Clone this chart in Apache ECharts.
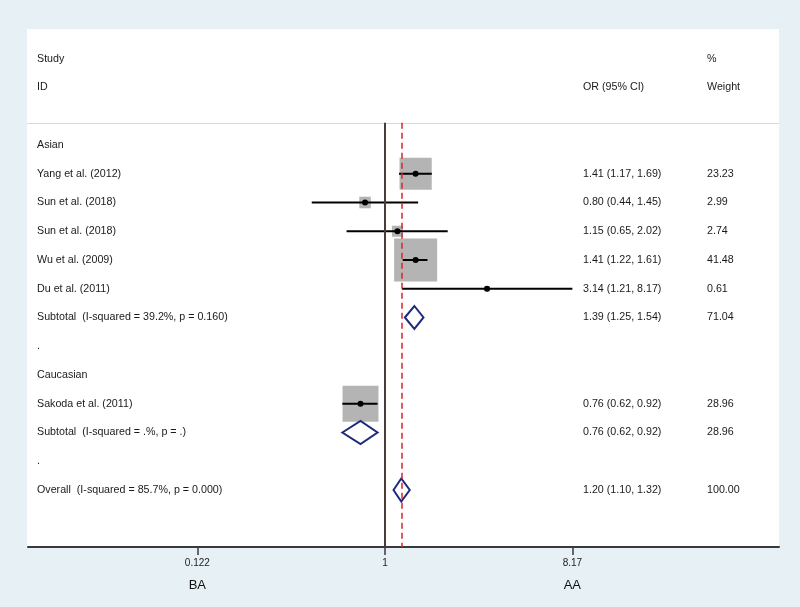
<!DOCTYPE html>
<html>
<head>
<meta charset="utf-8">
<script src="https://cdn.jsdelivr.net/npm/echarts@6/dist/echarts.min.js"></script>
<style>
html,body{margin:0;padding:0;background:#e6f0f5;}
#c{width:800px;height:607px;}
</style>
</head>
<body>
<div id="c"></div>
<script>
// ---------- data ----------
const studyNames = ['Yang et al. (2012)', 'Sun et al. (2018)', 'Sun et al. (2018)', 'Wu et al. (2009)', 'Du et al. (2011)', 'Sakoda et al. (2011)'];
const studyRow = [1, 2, 3, 4, 5, 9];
const studyOR = [1.41, 0.80, 1.15, 1.41, 3.14, 0.76];
const studyLo = [1.17, 0.44, 0.65, 1.22, 1.21, 0.62];
const studyHi = [1.69, 1.45, 2.02, 1.61, 8.17, 0.92];
const studyWeight = [23.23, 2.99, 2.74, 41.48, 0.61, 28.96];

const pooledNames = ['Subtotal  (I-squared = 39.2%, p = 0.160)', 'Subtotal  (I-squared = .%, p = .)', 'Overall  (I-squared = 85.7%, p = 0.000)'];
const pooledRow = [6, 10, 12];
const pooledOR = [1.39, 0.76, 1.20];
const pooledLo = [1.25, 0.62, 1.10];
const pooledHi = [1.54, 0.92, 1.32];
const pooledWeight = [71.04, 28.96, 100.00];

const groupNames = ['Asian', 'Caucasian'];
const groupRow = [0, 8];
const spacerRow = [7, 11];

const tickValues = [0.122, 1, 8.17];
const tickLabels = ['0.122', '1', '8.17'];
const sideLabels = ['BA', '', 'AA'];

// ---------- build ----------
const FONT = "'Liberation Sans', Arial, Helvetica, sans-serif";
const ln = Math.log;
const f2 = v => v.toFixed(2);
const overallOR = pooledOR[pooledOR.length - 1];

const textRows = [];
textRows.push({ row: -3, study: 'Study', or: '', w: '%' });
textRows.push({ row: -2, study: 'ID', or: 'OR (95% CI)', w: 'Weight' });
groupNames.forEach((g, i) => textRows.push({ row: groupRow[i], study: g, or: '', w: '' }));
spacerRow.forEach(r => textRows.push({ row: r, study: '.', or: '', w: '' }));
studyNames.forEach((n, i) => textRows.push({
  row: studyRow[i], study: n,
  or: f2(studyOR[i]) + ' (' + f2(studyLo[i]) + ', ' + f2(studyHi[i]) + ')',
  w: f2(studyWeight[i])
}));
pooledNames.forEach((n, i) => textRows.push({
  row: pooledRow[i], study: n,
  or: f2(pooledOR[i]) + ' (' + f2(pooledLo[i]) + ', ' + f2(pooledHi[i]) + ')',
  w: f2(pooledWeight[i])
}));

const studyData = studyNames.map((n, i) => [ln(studyOR[i]), studyRow[i], ln(studyLo[i]), ln(studyHi[i]), studyWeight[i]]);
const pooledData = pooledNames.map((n, i) => [ln(pooledOR[i]), pooledRow[i], ln(pooledLo[i]), ln(pooledHi[i])]);
const tickLn = tickValues.map(ln);

const Y_MIN = -4.035, Y_MAX = 13.983, LINE_TOP = -0.77;
const BOX_SCALE = 6.68;
const TEXT_COLOR = '#1a1a1a';
const FS = 10.7;

const chart = echarts.init(document.getElementById('c'), null, { renderer: 'canvas' });
const option = {
  backgroundColor: '#e6f0f5',
  animation: false,
  graphic: [
    { type: 'rect', z: -10, silent: true, shape: { x: 27, y: 29, width: 752, height: 518 }, style: { fill: '#ffffff' } },
    { type: 'line', z: -9, silent: true, shape: { x1: 27, y1: 123.5, x2: 779, y2: 123.5 }, style: { stroke: '#dadada', lineWidth: 1 } }
  ],
  grid: { left: 28, right: 21, top: 29, bottom: 60 },
  xAxis: {
    type: 'value', min: -4.002, max: 4.417,
    splitLine: { show: false },
    axisLine: { show: true, onZero: false, lineStyle: { color: '#3a3a3a', width: 2 } },
    axisTick: { show: true, customValues: tickLn, length: 8, lineStyle: { color: '#3a3a3a', width: 1.5 } },
    axisLabel: {
      show: true, customValues: tickLn, margin: 8,
      formatter: v => {
        let idx = 0, best = Infinity;
        tickLn.forEach((t, i) => { const d = Math.abs(t - v); if (d < best) { best = d; idx = i; } });
        return '{t|' + tickLabels[idx] + '}' + (sideLabels[idx] ? '\n{n|' + sideLabels[idx] + '}' : '');
      },
      rich: {
        t: { fontSize: 10, lineHeight: 16, color: '#222', fontFamily: FONT },
        n: { fontSize: 13, lineHeight: 28, color: '#111', fontFamily: FONT }
      }
    }
  },
  yAxis: { type: 'value', inverse: true, min: Y_MIN, max: Y_MAX, show: false },
  series: [
    {
      type: 'line', data: [], z: 1, silent: true,
      markLine: {
        silent: true, symbol: 'none', label: { show: false }, animation: false,
        data: [
          [{ coord: [0, LINE_TOP], lineStyle: { color: '#4a3c38', width: 2, type: 'solid' } }, { coord: [0, Y_MAX] }],
          [{ coord: [ln(overallOR), LINE_TOP], lineStyle: { color: '#d8262a', width: 1.5, type: [6, 4] } }, { coord: [ln(overallOR), Y_MAX] }]
        ]
      }
    },
    {
      type: 'custom', z: 3, clip: false,
      encode: { x: [0, 2, 3], y: 1 },
      data: studyData,
      renderItem: (params, api) => {
        const row = api.value(1);
        const c = api.coord([api.value(0), row]);
        const l = api.coord([api.value(2), row]);
        const h = api.coord([api.value(3), row]);
        const s = BOX_SCALE * Math.sqrt(api.value(4));
        return {
          type: 'group', children: [
            { type: 'rect', shape: { x: c[0] - s / 2, y: c[1] - s / 2, width: s, height: s }, style: { fill: '#b4b4b4' } },
            { type: 'line', shape: { x1: l[0], y1: c[1], x2: h[0], y2: c[1] }, style: { stroke: '#000', lineWidth: 2 } },
            { type: 'circle', shape: { cx: c[0], cy: c[1], r: 3 }, style: { fill: '#000' } }
          ]
        };
      }
    },
    {
      type: 'custom', z: 3, clip: false,
      encode: { x: [0, 2, 3], y: 1 },
      data: pooledData,
      renderItem: (params, api) => {
        const row = api.value(1);
        const c = api.coord([api.value(0), row]);
        const l = api.coord([api.value(2), row]);
        const h = api.coord([api.value(3), row]);
        const hh = 11.5;
        return {
          type: 'polygon',
          shape: { points: [[l[0], c[1]], [c[0], c[1] - hh], [h[0], c[1]], [c[0], c[1] + hh]] },
          style: { fill: 'none', stroke: '#1d2a7e', lineWidth: 2 }
        };
      }
    },
    {
      type: 'custom', z: 4, clip: false, silent: true,
      encode: { x: 0, y: 1 },
      data: textRows.map(r => [0, r.row]),
      renderItem: (params, api) => {
        const r = textRows[params.dataIndex];
        const y = api.coord([0, api.value(1)])[1];
        const mk = (x, t) => ({ type: 'text', x: x, y: y, style: { text: t, fill: TEXT_COLOR, fontSize: FS, fontFamily: FONT, align: 'left', verticalAlign: 'middle' } });
        return { type: 'group', children: [mk(37, r.study), mk(583, r.or), mk(707, r.w)] };
      }
    }
  ]
};
chart.setOption(option);
</script>
</body>
</html>
